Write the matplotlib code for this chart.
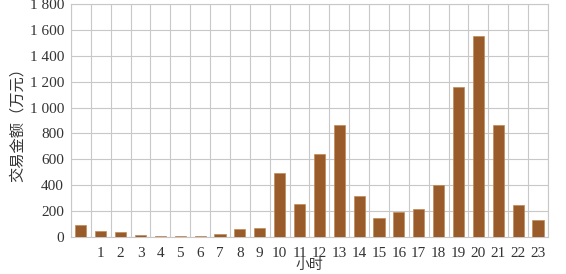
import numpy as np
import matplotlib.pyplot as plt

hours = list(range(24))
amount = [92, 45, 36, 12, 9, 5, 5, 25, 60, 72, 492, 258, 645, 868, 318, 148, 192, 220,
          405, 1158, 1552, 862, 245, 132]
tick_pos = list(range(1, 24))
tick_labels = [str(h) for h in tick_pos]
y_ticks = [0, 200, 400, 600, 800, 1000, 1200, 1400, 1600, 1800]
y_labels = ["0", "200", "400", "600", "800", "1 000", "1 200", "1 400", "1 600", "1 800"]

serif = ["Liberation Serif", "Noto Sans CJK SC"]
cjk = ["Noto Sans CJK SC", "DejaVu Sans"]

fig = plt.figure(figsize=(5.66, 2.74), dpi=100)
ax = fig.add_axes([0.1254, 0.135, 0.8426, 0.850])

ax.bar(hours, amount, width=0.56, color="#9a5b2a", edgecolor="#c08a55", linewidth=0.5, zorder=3)

ax.set_xlim(-0.5, 23.5)
ax.set_ylim(0, 1800)
ax.set_yticks(y_ticks)
ax.set_yticklabels(y_labels, family=serif, fontsize=11, color="#333333")
ax.set_xticks(tick_pos)
ax.set_xticklabels(tick_labels, family=serif, fontsize=11, color="#333333")
ax.set_xticks(np.arange(-0.5, 24, 1), minor=True)
ax.tick_params(axis="both", which="both", length=0)
ax.tick_params(axis="x", pad=7)
ax.tick_params(axis="y", pad=5)

ax.grid(axis="y", which="major", color="#c8c8c8", linewidth=0.8, zorder=0)
ax.grid(axis="x", which="minor", color="#c8c8c8", linewidth=0.8, zorder=0)
ax.grid(axis="x", which="major", visible=False)
for s in ax.spines.values():
    s.set_color("#c8c8c8")
    s.set_linewidth(0.8)

ax.set_xlabel("小时", family=cjk, fontsize=10, color="#333333", labelpad=-1)
ax.set_ylabel("交易金额（万元）", family=cjk, fontsize=11, color="#333333", labelpad=3)

fig.savefig("out.png", dpi=100)
